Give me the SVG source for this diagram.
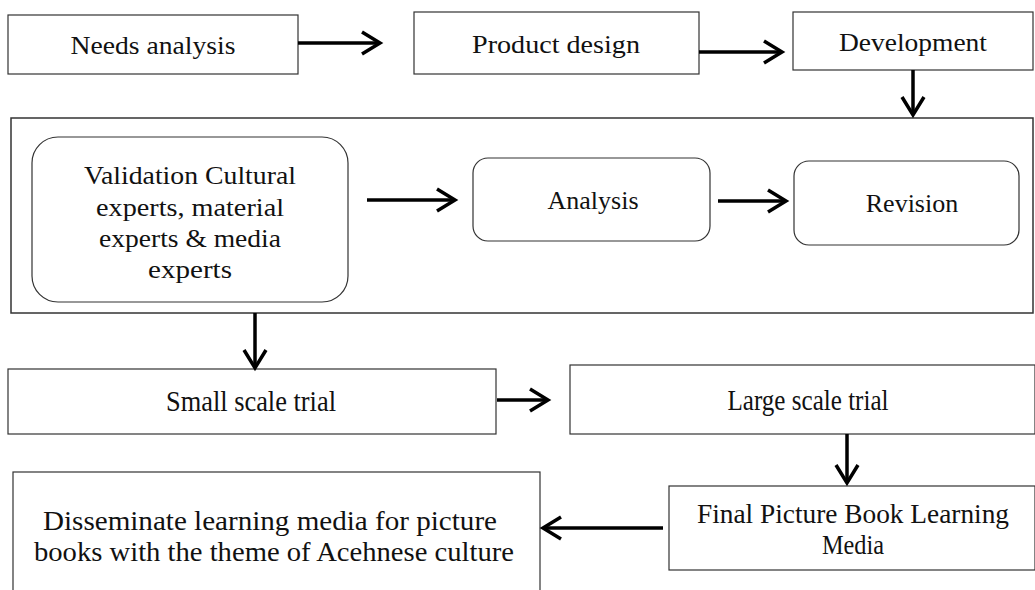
<svg xmlns="http://www.w3.org/2000/svg" width="1035" height="590" viewBox="0 0 1035 590">
<style>
.box{fill:#fff;stroke:#333;stroke-width:1.2}
.cont{fill:none;stroke:#333;stroke-width:1.5}
.t{font-family:"Liberation Serif","Times New Roman",serif;fill:#111;text-anchor:middle}
.c{font-size:26px}
.m{font-size:26px}
.s{font-size:29px}
.n{font-size:28px}
.ar{fill:none;stroke:#000;stroke-width:3.5}
</style>
<defs>
<marker id="ah" markerUnits="userSpaceOnUse" markerWidth="26" markerHeight="28" viewBox="0 0 26 28" refX="22" refY="14" orient="auto">
<path d="M4,3 L22,14 L4,25" fill="none" stroke="#000" stroke-width="3.5"/>
</marker>
</defs>
<rect width="1035" height="590" fill="#fff"/>
<g id="container"><rect class="cont" x="11" y="118" width="1022" height="195"/></g>
<g id="needs"><rect class="box" x="8" y="15" width="290" height="59"/><text class="t c" x="153" y="54" textLength="165" lengthAdjust="spacingAndGlyphs">Needs analysis</text></g>
<g id="product"><rect class="box" x="414" y="12" width="285" height="62"/><text class="t c" x="556" y="53" textLength="168" lengthAdjust="spacingAndGlyphs">Product design</text></g>
<g id="development"><rect class="box" x="793" y="12" width="240" height="58"/><text class="t c" x="913" y="51" textLength="148" lengthAdjust="spacingAndGlyphs">Development</text></g>
<g id="validation"><rect class="box" x="32" y="137" width="316" height="165" rx="26"/>
<text class="t c" x="190" y="184" textLength="212" lengthAdjust="spacingAndGlyphs">Validation Cultural</text>
<text class="t c" x="190" y="216" textLength="188" lengthAdjust="spacingAndGlyphs">experts, material</text>
<text class="t c" x="190" y="247" textLength="182" lengthAdjust="spacingAndGlyphs">experts &amp; media</text>
<text class="t c" x="190" y="278" textLength="84" lengthAdjust="spacingAndGlyphs">experts</text></g>
<g id="analysis"><rect class="box" x="473" y="158" width="237" height="83" rx="15"/><text class="t m" x="593" y="209">Analysis</text></g>
<g id="revision"><rect class="box" x="794" y="161" width="225" height="84" rx="15"/><text class="t m" x="912" y="212">Revision</text></g>
<g id="small"><rect class="box" x="8" y="369" width="488" height="65"/><text class="t s" x="251" y="411" textLength="170" lengthAdjust="spacingAndGlyphs">Small scale trial</text></g>
<g id="large"><rect class="box" x="570" y="365" width="465" height="69"/><text class="t s" x="808" y="410" textLength="161" lengthAdjust="spacingAndGlyphs">Large scale trial</text></g>
<g id="final"><rect class="box" x="669" y="486" width="366" height="84"/>
<text class="t n" x="853" y="523" textLength="312" lengthAdjust="spacingAndGlyphs">Final Picture Book Learning</text>
<text class="t n" x="853" y="554" textLength="62" lengthAdjust="spacingAndGlyphs">Media</text></g>
<g id="disseminate"><rect class="box" x="13" y="472" width="527" height="130"/>
<text class="t n" x="270" y="530" textLength="454" lengthAdjust="spacingAndGlyphs">Disseminate learning media for picture</text>
<text class="t n" x="274" y="561" textLength="480" lengthAdjust="spacingAndGlyphs">books with the theme of Acehnese culture</text></g>
<g id="connectors">
<path class="ar" d="M298,43 H380" marker-end="url(#ah)"/>
<path class="ar" d="M699,52 H782" marker-end="url(#ah)"/>
<path class="ar" d="M913,70 V115" marker-end="url(#ah)"/>
<path class="ar" d="M367,200 H455" marker-end="url(#ah)"/>
<path class="ar" d="M718,201 H786" marker-end="url(#ah)"/>
<path class="ar" d="M255,313 V368" marker-end="url(#ah)"/>
<path class="ar" d="M497,400 H548" marker-end="url(#ah)"/>
<path class="ar" d="M847,434 V483" marker-end="url(#ah)"/>
<path class="ar" d="M663,528 H543" marker-end="url(#ah)"/>
</g>
</svg>
